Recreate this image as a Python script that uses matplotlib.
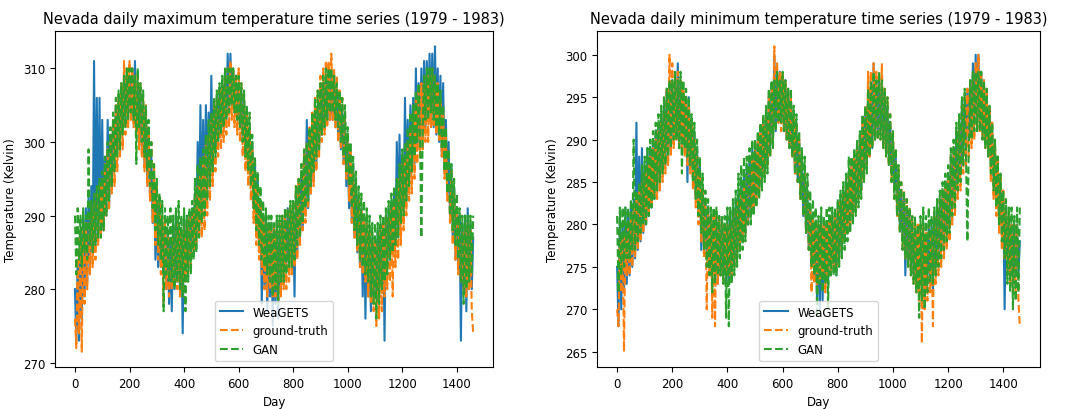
import numpy as np
import matplotlib
matplotlib.use("Agg")
import matplotlib.pyplot as plt

# days, sampled every 5 days (0 .. 1460)
days = list(range(0, 1461, 5))

# daily maximum temperature (Kelvin)
tmax_weagets = [
    280, 273, 284, 273, 288, 276, 290, 279, 291, 281, 293, 283, 294, 285, 311, 286, 306, 287, 306, 288,
    303, 288, 298, 290, 303, 291, 301, 294, 303, 297, 305, 299, 306, 300, 307, 302, 309, 303, 309, 304,
    309, 304, 310, 303, 311, 302, 308, 300, 307, 299, 305, 297, 304, 295, 301, 293, 298, 289, 295, 284,
    292, 283, 290, 283, 289, 282, 288, 280, 288, 278, 287, 277, 289, 280, 290, 281, 289, 280, 288, 274,
    290, 282, 289, 283, 290, 284, 291, 286, 293, 287, 300, 289, 305, 290, 303, 291, 305, 293, 304, 295,
    309, 297, 305, 299, 306, 300, 307, 301, 308, 302, 309, 303, 312, 304, 312, 305, 310, 304, 309, 303,
    308, 302, 307, 300, 306, 298, 304, 296, 302, 294, 300, 291, 297, 289, 295, 286, 292, 278, 290, 280,
    290, 277, 289, 279, 289, 275, 288, 278, 289, 276, 288, 280, 289, 281, 290, 283, 291, 283, 291, 284,
    290, 279, 293, 285, 294, 287, 296, 288, 298, 290, 303, 291, 301, 293, 303, 295, 304, 297, 305, 299,
    307, 301, 308, 302, 309, 303, 310, 303, 309, 303, 309, 302, 307, 301, 306, 299, 305, 297, 303, 294,
    300, 291, 299, 289, 297, 287, 294, 285, 292, 283, 291, 279, 290, 276, 289, 279, 288, 277, 287, 278,
    287, 279, 288, 280, 288, 281, 289, 273, 290, 283, 291, 284, 292, 285, 293, 286, 300, 288, 301, 289,
    298, 291, 306, 292, 303, 294, 305, 296, 306, 297, 310, 299, 308, 300, 310, 301, 311, 302, 311, 303,
    312, 303, 312, 302, 313, 301, 310, 300, 309, 298, 308, 296, 303, 293, 300, 290, 297, 287, 294, 284,
    291, 283, 290, 273, 289, 280, 290, 277, 291, 281, 289, 280, 287,
]
tmax_truth = [
    276, 272, 285, 274, 287, 271.5, 288, 278, 289, 280, 290, 282, 291, 283, 292, 284, 293, 286, 294, 287,
    295, 288, 297, 290, 299, 291, 301, 293, 303, 294, 305, 296, 306, 298, 308, 299, 311, 301, 310, 302,
    311, 303, 310, 302, 309, 301, 309, 299, 308, 298, 306, 296, 305, 294, 302, 292, 300, 289, 297, 286,
    294, 284, 292, 282, 290, 278, 289, 280, 288, 279, 288, 280, 287, 281, 288, 280, 289, 279, 288, 280,
    288, 281, 289, 282, 290, 283, 291, 285, 293, 286, 294, 287, 296, 287, 298, 288, 300, 290, 301, 292,
    303, 294, 305, 296, 306, 298, 307, 299, 308, 300, 309, 301, 310, 302, 311, 303, 310, 302, 309, 301,
    310, 300, 308, 298, 306, 296, 304, 294, 302, 292, 299, 289, 296, 286, 294, 284, 292, 282, 290, 280,
    289, 279, 289, 280, 288, 279, 289, 279, 288, 278, 289, 279, 290, 280, 290, 280, 291, 281, 291, 282,
    292, 283, 294, 284, 295, 286, 297, 288, 299, 289, 300, 291, 302, 293, 304, 294, 306, 296, 307, 298,
    309, 300, 310, 301, 311, 302, 311, 303, 312, 303, 310, 302, 309, 300, 307, 299, 306, 297, 304, 295,
    301, 292, 299, 289, 296, 287, 294, 285, 292, 283, 291, 282, 290, 281, 289, 279, 288, 278, 287, 277,
    287, 275, 286, 276, 288, 277, 289, 279, 290, 280, 290, 281, 291, 279, 292, 283, 293, 284, 295, 286,
    297, 288, 298, 290, 300, 292, 302, 293, 304, 295, 306, 297, 307, 298, 308, 299, 308, 300, 309, 300,
    309, 302, 310, 302, 309, 301, 308, 300, 306, 298, 304, 295, 301, 292, 299, 289, 296, 286, 293, 284,
    291, 282, 289, 281, 288, 280, 288, 279, 289, 280, 288, 277, 274,
]
tmax_gan = [
    290, 282, 291, 284, 290, 283, 291, 285, 290, 284, 299, 286, 292, 285, 293, 286, 294, 287, 295, 287,
    296, 288, 298, 290, 300, 292, 302, 294, 304, 296, 306, 298, 307, 299, 308, 301, 309, 302, 310, 303,
    310, 304, 310, 303, 309, 297, 310, 302, 308, 300, 307, 298, 305, 296, 303, 294, 300, 291, 297, 288,
    295, 286, 293, 284, 292, 277, 291, 282, 290, 281, 291, 281, 290, 280, 291, 281, 292, 280, 290, 279,
    291, 277, 290, 281, 291, 282, 292, 284, 295, 285, 297, 287, 298, 289, 299, 290, 301, 292, 303, 294,
    304, 296, 306, 298, 307, 300, 308, 301, 309, 302, 310, 303, 310, 304, 310, 305, 310, 304, 309, 303,
    309, 302, 308, 300, 307, 298, 305, 296, 304, 294, 301, 291, 298, 288, 296, 286, 294, 284, 292, 283,
    291, 282, 290, 281, 290, 279, 289, 280, 290, 278, 290, 281, 290, 281, 291, 282, 291, 283, 292, 283,
    292, 284, 294, 286, 295, 287, 297, 289, 299, 291, 300, 292, 302, 294, 304, 296, 306, 298, 307, 299,
    308, 301, 309, 302, 310, 303, 310, 304, 310, 304, 309, 303, 308, 302, 307, 300, 306, 298, 305, 296,
    302, 294, 300, 291, 298, 288, 296, 286, 294, 284, 293, 283, 292, 282, 291, 281, 290, 279, 289, 278,
    289, 276, 289, 278, 290, 280, 290, 281, 291, 282, 292, 284, 293, 285, 294, 286, 295, 287, 297, 289,
    299, 290, 300, 292, 302, 294, 304, 296, 305, 298, 307, 300, 308, 301, 287, 302, 309, 303, 310, 303,
    310, 304, 310, 303, 309, 302, 308, 301, 307, 299, 305, 296, 302, 293, 299, 290, 297, 288, 295, 286,
    293, 284, 291, 281, 290, 278, 290, 280, 290, 281, 290, 282, 290,
]

# daily minimum temperature (Kelvin)
tmin_weagets = [
    275, 268, 281, 270, 280, 272, 282, 273, 281, 274, 282, 275, 283, 276, 292, 277, 288, 278, 289, 279,
    287, 280, 289, 281, 289, 282, 290, 283, 291, 284, 292, 285, 293, 286, 294, 287, 296, 288, 296, 289,
    297, 290, 296, 290, 299, 289, 297, 290, 296, 289, 295, 285, 295, 287, 292, 285, 291, 283, 289, 281,
    287, 277, 284, 277, 283, 276, 282, 275, 281, 274, 281, 274, 281, 273, 281, 274, 280, 274, 280, 273,
    281, 273, 281, 274, 282, 275, 283, 276, 284, 277, 285, 278, 286, 279, 287, 280, 288, 281, 289, 282,
    289, 283, 290, 284, 291, 285, 292, 286, 293, 287, 295, 289, 296, 290, 300, 291, 298, 292, 298, 292,
    297, 291, 297, 290, 296, 289, 295, 288, 293, 286, 292, 285, 290, 283, 288, 281, 286, 279, 284, 277,
    282, 275, 281, 274, 280, 271, 280, 270, 281, 271, 280, 273, 280, 273, 281, 275, 281, 275, 281, 274,
    282, 276, 283, 277, 284, 278, 285, 279, 286, 280, 287, 281, 288, 282, 289, 283, 290, 284, 292, 286,
    293, 287, 295, 288, 296, 289, 299, 290, 297, 291, 297, 291, 296, 290, 295, 289, 294, 288, 292, 286,
    290, 284, 288, 282, 286, 280, 284, 278, 283, 274, 282, 276, 281, 275, 280, 274, 279, 273, 279, 273,
    279, 273, 279, 272, 279, 273, 280, 274, 280, 272, 281, 275, 282, 276, 283, 277, 284, 278, 285, 279,
    286, 280, 288, 282, 289, 283, 291, 285, 292, 286, 294, 288, 295, 289, 296, 290, 297, 291, 299, 292,
    300, 292, 300, 292, 298, 291, 297, 290, 295, 289, 293, 287, 291, 285, 289, 283, 287, 281, 285, 279,
    283, 270, 282, 276, 281, 275, 280, 274, 280, 274, 280, 274, 278,
]
tmin_truth = [
    270, 268, 278, 272, 279, 265, 279, 274, 280, 274, 281, 275, 282, 276, 283, 277, 284, 278, 285, 279,
    286, 280, 287, 281, 288, 282, 289, 283, 290, 283, 291, 284, 292, 285, 293, 286, 296, 287, 300, 288,
    299, 289, 298, 290, 298, 289, 297, 289, 296, 288, 295, 287, 294, 286, 292, 284, 290, 282, 288, 280,
    286, 278, 284, 276, 283, 270, 282, 274, 281, 269, 281, 268, 281, 273, 281, 274, 280, 273, 280, 274,
    280, 274, 280, 274, 281, 275, 282, 276, 283, 277, 284, 278, 285, 279, 286, 280, 287, 281, 288, 282,
    289, 283, 290, 284, 291, 285, 292, 286, 293, 287, 295, 288, 296, 290, 301, 291, 299, 292, 298, 291,
    298, 291, 297, 290, 296, 289, 295, 288, 293, 286, 292, 285, 290, 283, 288, 281, 286, 279, 284, 277,
    282, 272, 281, 273, 280, 272, 280, 273, 280, 274, 280, 272, 280, 274, 281, 274, 281, 275, 281, 275,
    282, 276, 283, 277, 284, 278, 285, 279, 286, 280, 287, 281, 288, 282, 289, 283, 290, 284, 292, 285,
    294, 287, 298, 288, 298, 289, 299, 290, 298, 290, 298, 290, 299, 289, 296, 288, 295, 287, 293, 285,
    291, 283, 289, 281, 287, 279, 285, 277, 284, 276, 283, 275, 282, 274, 281, 273, 280, 272, 280, 271,
    280, 266, 280, 270, 279, 271, 280, 272, 279, 268, 281, 273, 282, 274, 283, 275, 284, 276, 285, 277,
    286, 278, 288, 280, 289, 281, 291, 283, 292, 284, 294, 286, 295, 287, 296, 288, 297, 289, 298, 290,
    299, 291, 300, 291, 298, 290, 297, 289, 296, 288, 294, 285, 292, 283, 290, 281, 288, 279, 286, 277,
    284, 276, 282, 274, 281, 273, 280, 272, 280, 272, 280, 271, 268,
]
tmin_gan = [
    281, 272, 282, 274, 282, 275, 282, 276, 282, 276, 283, 277, 290, 277, 284, 278, 285, 279, 287, 280,
    288, 280, 289, 281, 290, 282, 291, 283, 292, 284, 293, 285, 294, 286, 295, 287, 296, 288, 297, 289,
    297, 290, 298, 290, 297, 289, 298, 286, 297, 289, 296, 288, 295, 287, 293, 285, 292, 283, 290, 281,
    288, 279, 286, 277, 284, 275, 283, 274, 282, 272, 282, 273, 282, 274, 281, 274, 281, 273, 281, 269,
    282, 268, 282, 273, 283, 274, 284, 275, 286, 276, 287, 277, 288, 278, 288, 280, 289, 280, 290, 281,
    290, 282, 291, 283, 292, 284, 293, 285, 294, 286, 296, 288, 297, 289, 297, 291, 298, 292, 297, 292,
    298, 291, 297, 290, 296, 289, 296, 288, 294, 286, 293, 285, 291, 283, 289, 281, 288, 279, 286, 277,
    284, 275, 283, 274, 282, 269, 281, 273, 282, 272, 281, 273, 282, 270, 282, 274, 282, 274, 282, 274,
    283, 275, 284, 276, 285, 277, 286, 278, 288, 279, 288, 280, 289, 281, 290, 282, 291, 283, 293, 285,
    294, 286, 296, 288, 297, 289, 298, 290, 297, 290, 298, 290, 297, 289, 296, 288, 295, 287, 293, 285,
    291, 283, 289, 281, 287, 279, 285, 277, 284, 276, 283, 275, 282, 274, 281, 273, 281, 272, 280, 269,
    281, 271, 282, 270, 281, 272, 282, 273, 281, 273, 282, 274, 283, 275, 284, 276, 285, 277, 286, 278,
    287, 279, 289, 281, 290, 282, 292, 284, 293, 285, 295, 287, 296, 288, 278, 289, 297, 290, 298, 291,
    298, 291, 298, 291, 298, 290, 297, 289, 296, 288, 294, 286, 292, 284, 290, 282, 288, 280, 286, 278,
    284, 276, 283, 273, 282, 272, 282, 270, 281, 271, 282, 272, 282,
]

plt.rcParams['font.size'] = 8.5

fig = plt.figure(figsize=(10.71, 4.10), dpi=100)
ax1 = fig.add_axes([0.0514, 0.1024, 0.409, 0.8195])
ax2 = fig.add_axes([0.5574, 0.1024, 0.4136, 0.8195])

panels = [
    (ax1, tmax_weagets, tmax_truth, tmax_gan,
     "Nevada daily maximum temperature time series (1979 - 1983)"),
    (ax2, tmin_weagets, tmin_truth, tmin_gan,
     "Nevada daily minimum temperature time series (1979 - 1983)"),
]

for ax, wg, gt, gan, title in panels:
    ax.plot(days, wg, color='#1f77b4', lw=1.5, label='WeaGETS')
    ax.plot(days, gt, color='#ff7f0e', lw=1.5, ls='--', label='ground-truth')
    ax.plot(days, gan, color='#2ca02c', lw=1.5, ls='--', label='GAN')
    ax.set_title(title, fontsize=10.5)
    ax.set_xlabel('Day')
    ax.set_ylabel('Temperature (Kelvin)')
    ax.legend(loc='lower center')

fig.savefig('out.png', dpi=100)
